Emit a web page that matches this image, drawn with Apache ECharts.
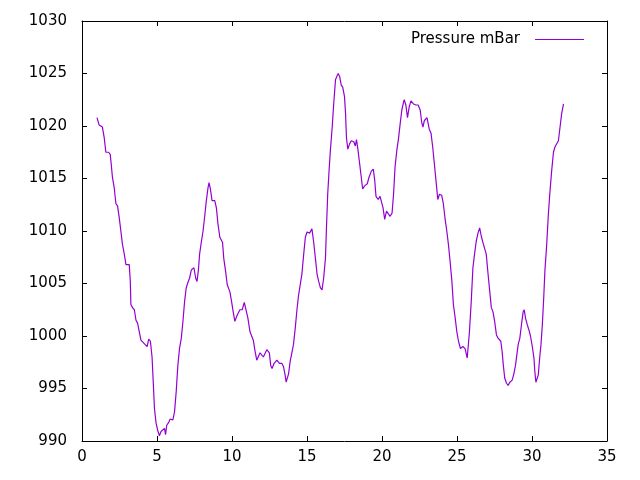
<!DOCTYPE html>
<html>
<head>
<meta charset="utf-8">
<script src="https://cdn.jsdelivr.net/npm/echarts@6/dist/echarts.min.js"></script>
<style>
html,body{margin:0;padding:0;background:#fff;}
#chart{width:640px;height:480px;}
</style>
</head>
<body>
<div id="chart"></div>
<script>
const seriesName = 'Pressure mBar';
const xTicks = [0, 5, 10, 15, 20, 25, 30, 35];
const yTicks = [990, 995, 1000, 1005, 1010, 1015, 1020, 1025, 1030];
const days = [
1.00,1.14,1.36,1.48,1.59,1.77,1.88,1.94,2.03,2.15,2.26,2.37,2.48,2.59,2.70,2.82,2.93,3.15,3.22,3.26,
3.37,3.49,3.60,3.71,3.82,3.93,4.04,4.20,4.34,4.45,4.56,4.67,4.76,4.83,4.94,5.05,5.16,5.27,5.39,5.50,
5.57,5.65,5.79,5.88,6.06,6.17,6.28,6.39,6.50,6.62,6.73,6.84,6.95,7.06,7.17,7.29,7.40,7.46,7.58,7.67,
7.76,7.84,7.96,8.07,8.18,8.29,8.40,8.47,8.56,8.67,8.85,8.96,9.07,9.19,9.37,9.45,9.57,9.68,9.86,9.97,
10.08,10.19,10.35,10.53,10.68,10.82,10.93,11.06,11.20,11.31,11.42,11.53,11.65,11.87,12.09,12.32,12.49,12.58,12.67,12.81,
12.99,13.16,13.32,13.43,13.54,13.61,13.77,13.88,13.99,14.10,14.22,14.33,14.44,14.55,14.66,14.78,14.89,15.00,15.17,15.33,
15.44,15.56,15.67,15.78,15.89,16.00,16.11,16.23,16.29,16.38,16.47,16.56,16.68,16.78,16.90,17.01,17.08,17.18,17.28,17.38,
17.50,17.57,17.63,17.72,17.84,17.95,18.12,18.22,18.30,18.40,18.51,18.62,18.71,18.84,19.02,19.13,19.29,19.42,19.51,19.60,
19.74,19.87,19.96,20.07,20.18,20.30,20.40,20.54,20.67,20.77,20.87,20.99,21.10,21.21,21.32,21.44,21.48,21.59,21.70,21.81,
21.93,22.10,22.26,22.41,22.55,22.64,22.73,22.82,23.00,23.15,23.27,23.38,23.49,23.60,23.72,23.83,23.98,24.09,24.21,24.32,
24.43,24.54,24.66,24.76,24.88,24.99,25.10,25.23,25.39,25.54,25.68,25.83,25.95,26.06,26.17,26.28,26.40,26.51,26.62,26.73,
26.84,26.95,27.07,27.18,27.29,27.40,27.51,27.63,27.74,27.85,27.92,28.01,28.09,28.18,28.30,28.41,28.52,28.68,28.79,28.90,
28.99,29.08,29.19,29.30,29.41,29.48,29.57,29.68,29.79,29.90,30.02,30.13,30.19,30.26,30.35,30.42,30.51,30.60,30.69,30.78,
30.86,30.98,31.09,31.20,31.31,31.43,31.53,31.65,31.76,31.87,31.98,32.10
];
const pressure = [
1020.8,1020.1,1019.9,1018.9,1017.5,1017.5,1017.3,1016.5,1015.1,1014.1,1012.6,1012.4,1011.3,1010.0,1008.7,1007.8,1006.8,1006.8,1005.2,1003.0,
1002.7,1002.5,1001.5,1001.2,1000.4,999.6,999.5,999.2,999.0,999.7,999.5,998.0,995.3,993.1,991.7,991.0,990.5,990.9,991.0,991.2,
990.6,991.5,991.8,992.1,992.0,992.8,994.7,997.2,998.8,999.8,1001.4,1003.3,1004.6,1005.1,1005.5,1006.3,1006.2,1006.5,1005.5,1005.2,
1006.3,1007.8,1009.0,1010.0,1011.4,1012.9,1014.1,1014.6,1014.0,1012.9,1012.9,1012.2,1010.6,1009.4,1008.9,1007.4,1006.2,1004.9,1004.2,1003.3,
1002.3,1001.4,1002.0,1002.5,1002.5,1003.2,1003.3,1001.7,1000.4,1000.3,999.6,998.6,997.7,998.4,998.0,998.7,998.4,997.2,996.9,997.4,
997.7,997.4,997.4,997.1,996.3,995.6,996.4,997.6,998.4,999.2,1000.8,1002.5,1003.9,1004.9,1005.9,1007.8,1009.4,1009.9,1009.8,1010.2,
1009.0,1007.4,1005.9,1005.2,1004.6,1004.4,1005.5,1007.4,1010.0,1013.5,1015.7,1017.7,1019.9,1022.1,1024.4,1024.8,1025.0,1024.7,1023.9,1023.7,
1022.8,1021.2,1018.9,1017.8,1018.3,1018.6,1018.5,1018.1,1018.7,1017.7,1016.4,1015.1,1014.0,1014.3,1014.5,1015.1,1015.7,1015.9,1014.9,1013.3,
1013.0,1013.3,1013.2,1012.2,1011.1,1011.9,1011.9,1011.4,1011.7,1013.5,1016.1,1017.7,1018.8,1020.2,1021.5,1022.3,1022.5,1022.0,1020.8,1021.8,
1022.4,1022.1,1022.0,1022.0,1021.5,1020.4,1019.9,1020.5,1020.8,1019.7,1019.3,1018.0,1016.4,1014.8,1013.0,1013.5,1013.4,1012.6,1011.1,1010.0,
1008.7,1007.1,1005.2,1003.0,1001.7,1000.4,999.5,998.8,999.0,998.8,997.9,1000.4,1003.3,1006.5,1007.8,1009.0,1009.8,1010.3,1009.5,1008.9,
1009.0,1007.8,1005.9,1004.3,1002.7,1002.3,1001.4,1000.1,999.8,999.9,999.5,998.5,997.2,996.0,995.5,995.3,995.6,995.8,996.4,997.2,
998.2,999.2,999.8,1001.1,1002.3,1002.5,1001.7,1001.1,1000.6,1000.0,999.0,997.9,996.6,995.6,995.5,996.3,997.9,999.2,1001.1,1003.6,
1006.2,1008.7,1011.6,1013.8,1015.7,1017.5,1018.0,1018.1,1018.6,1019.9,1021.2,1022.1
];

const points = days.map((d, i) => [d, pressure[i]]);
const FONT = 'DejaVu Sans';
const xStep = xTicks[1] - xTicks[0];
const yStep = yTicks[1] - yTicks[0];
const plain = v => String(v);

function xAxisCfg(pos, showLabel) {
  return {
    type: 'value', position: pos,
    min: xTicks[0], max: xTicks[xTicks.length - 1], interval: xStep,
    axisLine: { show: true, onZero: false, lineStyle: { color: '#000', width: 1 } },
    axisTick: { show: true, inside: true, length: 5, lineStyle: { color: '#000', width: 1 } },
    axisLabel: { show: showLabel, color: '#000', fontFamily: FONT, fontSize: 15, margin: 9, formatter: plain },
    splitLine: { show: false }
  };
}
function yAxisCfg(pos, showLabel) {
  return {
    type: 'value', position: pos,
    min: yTicks[0], max: yTicks[yTicks.length - 1], interval: yStep,
    axisLine: { show: true, onZero: false, lineStyle: { color: '#000', width: 1 } },
    axisTick: { show: true, inside: true, length: 5, lineStyle: { color: '#000', width: 1 } },
    axisLabel: { show: showLabel, color: '#000', fontFamily: FONT, fontSize: 15, margin: 15, formatter: plain },
    splitLine: { show: false }
  };
}

const chart = echarts.init(document.getElementById('chart'), null, { renderer: 'canvas' });
chart.setOption({
  animation: false,
  backgroundColor: '#fff',
  grid: { left: 82, right: 33, top: 21, bottom: 39, containLabel: false },
  legend: {
    right: 51, top: 27, align: 'right',
    icon: 'rect', itemWidth: 49, itemHeight: 1.2,
    textStyle: { color: '#000', fontFamily: FONT, fontSize: 15, padding: [0, 10, 0, 0] },
    data: [seriesName]
  },
  xAxis: [xAxisCfg('bottom', true), xAxisCfg('top', false)],
  yAxis: [yAxisCfg('left', true), yAxisCfg('right', false)],
  series: [{
    name: seriesName, type: 'line', data: points,
    xAxisIndex: 0, yAxisIndex: 0,
    showSymbol: false, symbol: 'none',
    lineStyle: { color: '#9400d3', width: 1.2 },
    itemStyle: { color: '#9400d3' }
  }]
});
</script>
</body>
</html>
